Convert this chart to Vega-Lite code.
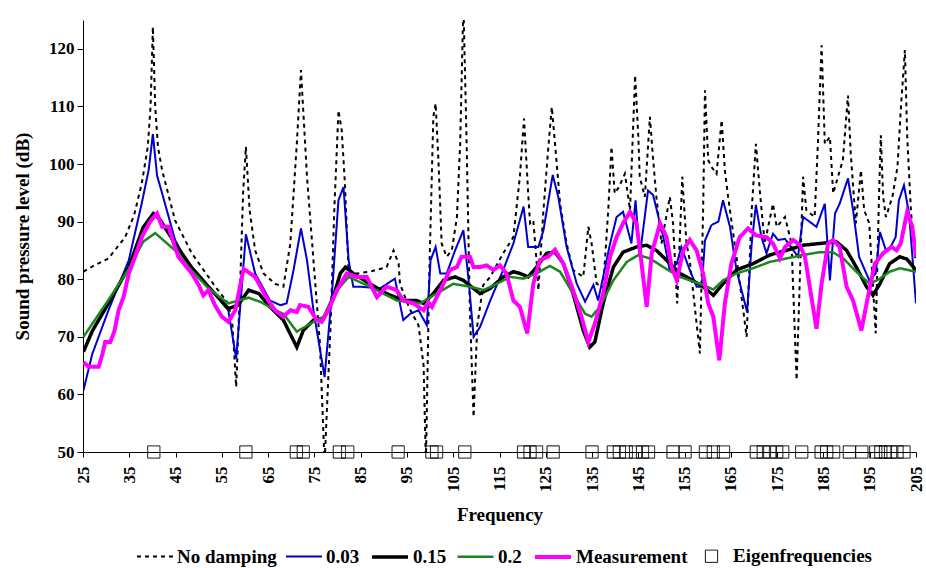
{
"$schema": "https://vega.github.io/schema/vega-lite/v6.json",
"width": 833, "height": 432,
"autosize": {"type": "none"},
"padding": {"left": 83, "top": 20, "right": 10, "bottom": 116},
"background": "white",
"config": {
 "view": {"stroke": null},
 "font": "Liberation Serif",
 "axis": {"labelFont": "Liberation Serif", "labelFontWeight": "bold", "labelFontSize": 17, "labelColor": "black", "titleFont": "Liberation Serif", "titleFontWeight": "bold", "titleFontSize": 19, "titleColor": "black", "domainColor": "black", "tickColor": "black", "grid": false, "labelOverlap": false, "labelFlush": false},
 "legend": {"labelFont": "Liberation Serif", "labelFontWeight": "bold", "labelFontSize": 19, "labelColor": "black", "padding": 0}
},
"data": {"values": [
{"s":"No damping","f":25.1,"v":81.3},{"s":"No damping","f":27,"v":82.2},{"s":"No damping","f":30.5,"v":83.6},{"s":"No damping","f":34.1,"v":87.3},{"s":"No damping","f":36,"v":91},{"s":"No damping","f":37.7,"v":96.6},{"s":"No damping","f":39.0,"v":103},{"s":"No damping","f":39.6,"v":110},{"s":"No damping","f":40.1,"v":123.8},{"s":"No damping","f":40.6,"v":110},{"s":"No damping","f":41.2,"v":103},{"s":"No damping","f":42.1,"v":98.9},{"s":"No damping","f":44.9,"v":90.2},{"s":"No damping","f":48.5,"v":84.5},{"s":"No damping","f":53.6,"v":78.7},{"s":"No damping","f":56.4,"v":75.8},{"s":"No damping","f":57.3,"v":72},{"s":"No damping","f":58.1,"v":61.3},{"s":"No damping","f":59.0,"v":80},{"s":"No damping","f":59.6,"v":95},{"s":"No damping","f":60.2,"v":103.0},{"s":"No damping","f":61.0,"v":92},{"s":"No damping","f":62.2,"v":85.0},{"s":"No damping","f":64,"v":81},{"s":"No damping","f":66.5,"v":79.2},{"s":"No damping","f":68.3,"v":78.7},{"s":"No damping","f":69.8,"v":86.2},{"s":"No damping","f":71.2,"v":103.5},{"s":"No damping","f":72.1,"v":116.3},{"s":"No damping","f":73.4,"v":97.8},{"s":"No damping","f":74.8,"v":83.3},{"s":"No damping","f":76.2,"v":68.8},{"s":"No damping","f":77.2,"v":48},{"s":"No damping","f":78.5,"v":72},{"s":"No damping","f":79.3,"v":92},{"s":"No damping","f":80.2,"v":109.3},{"s":"No damping","f":80.9,"v":105.9},{"s":"No damping","f":81.6,"v":96.6},{"s":"No damping","f":82.4,"v":81.0},{"s":"No damping","f":84.2,"v":81.0},{"s":"No damping","f":87.0,"v":81.3},{"s":"No damping","f":90.6,"v":82.1},{"s":"No damping","f":92.1,"v":85.0},{"s":"No damping","f":93.2,"v":82.7},{"s":"No damping","f":93.5,"v":79.2},{"s":"No damping","f":95.5,"v":75},{"s":"No damping","f":97.5,"v":72},{"s":"No damping","f":98.6,"v":65},{"s":"No damping","f":99.1,"v":48},{"s":"No damping","f":99.8,"v":80},{"s":"No damping","f":100.7,"v":108.2},{"s":"No damping","f":101.2,"v":110.5},{"s":"No damping","f":101.8,"v":100.7},{"s":"No damping","f":102.5,"v":86.2},{"s":"No damping","f":103.6,"v":83.9},{"s":"No damping","f":104.7,"v":85.0},{"s":"No damping","f":105.8,"v":90.8},{"s":"No damping","f":106.5,"v":103.5},{"s":"No damping","f":107.2,"v":128},{"s":"No damping","f":107.9,"v":103.5},{"s":"No damping","f":108.6,"v":74.6},{"s":"No damping","f":109.4,"v":56.1},{"s":"No damping","f":110.2,"v":72},{"s":"No damping","f":111.5,"v":79},{"s":"No damping","f":113.0,"v":80.4},{"s":"No damping","f":115.8,"v":84.5},{"s":"No damping","f":118.0,"v":87.3},{"s":"No damping","f":119.4,"v":97.8},{"s":"No damping","f":120.3,"v":107.9},{"s":"No damping","f":121.2,"v":94.9},{"s":"No damping","f":121.6,"v":89.7},{"s":"No damping","f":122.3,"v":90.2},{"s":"No damping","f":123.0,"v":83.3},{"s":"No damping","f":123.4,"v":78.1},{"s":"No damping","f":124.5,"v":92.0},{"s":"No damping","f":125.5,"v":102.4},{"s":"No damping","f":126.3,"v":109.9},{"s":"No damping","f":127.0,"v":103.5},{"s":"No damping","f":128.1,"v":93.1},{"s":"No damping","f":129.5,"v":86.2},{"s":"No damping","f":130.9,"v":81.6},{"s":"No damping","f":133.1,"v":80.4},{"s":"No damping","f":134.2,"v":89.1},{"s":"No damping","f":134.9,"v":86.2},{"s":"No damping","f":136.0,"v":79.2},{"s":"No damping","f":137.4,"v":78.6},{"s":"No damping","f":138.5,"v":92.0},{"s":"No damping","f":139.2,"v":103.0},{"s":"No damping","f":139.9,"v":94.9},{"s":"No damping","f":140.8,"v":96},{"s":"No damping","f":142.1,"v":98.3},{"s":"No damping","f":143.2,"v":92.0},{"s":"No damping","f":144.3,"v":115.4},{"s":"No damping","f":145.0,"v":104.7},{"s":"No damping","f":145.3,"v":97.8},{"s":"No damping","f":146.4,"v":94.3},{"s":"No damping","f":147.5,"v":108.2},{"s":"No damping","f":148.2,"v":100.7},{"s":"No damping","f":148.9,"v":94.3},{"s":"No damping","f":150.0,"v":86.2},{"s":"No damping","f":151.8,"v":94.3},{"s":"No damping","f":152.5,"v":89.7},{"s":"No damping","f":153.4,"v":75.8},{"s":"No damping","f":154.5,"v":97.8},{"s":"No damping","f":155.4,"v":86.2},{"s":"No damping","f":156.1,"v":83.3},{"s":"No damping","f":158.3,"v":67.1},{"s":"No damping","f":159.0,"v":92.0},{"s":"No damping","f":159.4,"v":112.8},{"s":"No damping","f":160.1,"v":100.7},{"s":"No damping","f":160.8,"v":99.5},{"s":"No damping","f":161.9,"v":98.3},{"s":"No damping","f":163.0,"v":107.6},{"s":"No damping","f":163.7,"v":98.9},{"s":"No damping","f":164.4,"v":94.3},{"s":"No damping","f":166.2,"v":83.9},{"s":"No damping","f":168.4,"v":70.0},{"s":"No damping","f":169.5,"v":92.0},{"s":"No damping","f":170.4,"v":103.5},{"s":"No damping","f":171.3,"v":94.9},{"s":"No damping","f":172.3,"v":86.2},{"s":"No damping","f":174.1,"v":93.1},{"s":"No damping","f":174.9,"v":89.1},{"s":"No damping","f":176.7,"v":90.8},{"s":"No damping","f":178.1,"v":86.2},{"s":"No damping","f":179.2,"v":62.5},{"s":"No damping","f":180.6,"v":97.8},{"s":"No damping","f":181.3,"v":92.0},{"s":"No damping","f":183.1,"v":90.8},{"s":"No damping","f":183.8,"v":103.5},{"s":"No damping","f":184.6,"v":120.6},{"s":"No damping","f":185.3,"v":103.5},{"s":"No damping","f":186.4,"v":104.7},{"s":"No damping","f":187.1,"v":94.9},{"s":"No damping","f":189.2,"v":100.7},{"s":"No damping","f":190.3,"v":111.9},{"s":"No damping","f":190.9,"v":101.8},{"s":"No damping","f":192.0,"v":89.7},{"s":"No damping","f":193.1,"v":98.9},{"s":"No damping","f":193.8,"v":92.0},{"s":"No damping","f":194.9,"v":89.7},{"s":"No damping","f":196.3,"v":70.6},{"s":"No damping","f":197.0,"v":94.3},{"s":"No damping","f":197.4,"v":105.0},{"s":"No damping","f":197.9,"v":94.3},{"s":"No damping","f":198.5,"v":90.8},{"s":"No damping","f":199.9,"v":94.3},{"s":"No damping","f":201.0,"v":99.5},{"s":"No damping","f":201.7,"v":109.3},{"s":"No damping","f":202.6,"v":119.8},{"s":"No damping","f":203.1,"v":104.7},{"s":"No damping","f":203.9,"v":92.0},{"s":"No damping","f":204.6,"v":85.0},{"s":"No damping","f":205,"v":83},
{"s":"0.03","f":25.1,"v":60.7},{"s":"0.03","f":27,"v":67},{"s":"0.03","f":30.5,"v":74.6},{"s":"0.03","f":34.9,"v":83.3},{"s":"0.03","f":37.7,"v":93.2},{"s":"0.03","f":39.2,"v":99},{"s":"0.03","f":40.1,"v":105.2},{"s":"0.03","f":41.0,"v":98},{"s":"0.03","f":42.1,"v":94.9},{"s":"0.03","f":44.9,"v":86.8},{"s":"0.03","f":48.5,"v":81.5},{"s":"0.03","f":52.1,"v":78.7},{"s":"0.03","f":56.4,"v":74.6},{"s":"0.03","f":58.1,"v":66.2},{"s":"0.03","f":60.2,"v":87.8},{"s":"0.03","f":62.2,"v":81.0},{"s":"0.03","f":65.4,"v":76.3},{"s":"0.03","f":67.6,"v":75.5},{"s":"0.03","f":69.0,"v":75.8},{"s":"0.03","f":70.5,"v":81.6},{"s":"0.03","f":72.1,"v":88.8},{"s":"0.03","f":73.4,"v":83.3},{"s":"0.03","f":74.8,"v":74.6},{"s":"0.03","f":77.2,"v":63.0},{"s":"0.03","f":78.8,"v":77.5},{"s":"0.03","f":80.2,"v":93.7},{"s":"0.03","f":81.3,"v":96.0},{"s":"0.03","f":82.4,"v":83.3},{"s":"0.03","f":83.4,"v":78.7},{"s":"0.03","f":84.9,"v":78.7},{"s":"0.03","f":89.2,"v":78.4},{"s":"0.03","f":92.4,"v":80.1},{"s":"0.03","f":94.2,"v":72.9},{"s":"0.03","f":95.7,"v":74.0},{"s":"0.03","f":97.5,"v":74.6},{"s":"0.03","f":99.3,"v":72.0},{"s":"0.03","f":100.1,"v":83.3},{"s":"0.03","f":101.2,"v":85.6},{"s":"0.03","f":102.2,"v":81.0},{"s":"0.03","f":103.6,"v":81.0},{"s":"0.03","f":105.4,"v":85.0},{"s":"0.03","f":107.2,"v":88.5},{"s":"0.03","f":108.4,"v":79.2},{"s":"0.03","f":109.4,"v":70.0},{"s":"0.03","f":110.8,"v":71.7},{"s":"0.03","f":113.0,"v":76.3},{"s":"0.03","f":115.8,"v":81.6},{"s":"0.03","f":118.0,"v":86.2},{"s":"0.03","f":120.2,"v":92.6},{"s":"0.03","f":121.2,"v":85.6},{"s":"0.03","f":123.4,"v":85.6},{"s":"0.03","f":124.5,"v":88.5},{"s":"0.03","f":126.5,"v":98.1},{"s":"0.03","f":127.7,"v":94.3},{"s":"0.03","f":129.5,"v":85.6},{"s":"0.03","f":131.7,"v":79.2},{"s":"0.03","f":133.5,"v":76.1},{"s":"0.03","f":135.3,"v":79.0},{"s":"0.03","f":136.3,"v":76.3},{"s":"0.03","f":137.4,"v":80.4},{"s":"0.03","f":138.9,"v":86.2},{"s":"0.03","f":140.3,"v":90.8},{"s":"0.03","f":141.7,"v":91.7},{"s":"0.03","f":143.5,"v":86.2},{"s":"0.03","f":144.4,"v":93.7},{"s":"0.03","f":145.3,"v":83.9},{"s":"0.03","f":147.1,"v":95.4},{"s":"0.03","f":148.2,"v":94.6},{"s":"0.03","f":150.4,"v":87.3},{"s":"0.03","f":151.8,"v":81.5},{"s":"0.03","f":153.3,"v":82.7},{"s":"0.03","f":154.3,"v":85.6},{"s":"0.03","f":156.1,"v":81.6},{"s":"0.03","f":157.6,"v":78.7},{"s":"0.03","f":158.7,"v":78.7},{"s":"0.03","f":159.4,"v":86.7},{"s":"0.03","f":160.8,"v":89.4},{"s":"0.03","f":162.3,"v":90.0},{"s":"0.03","f":163.3,"v":93.7},{"s":"0.03","f":164.8,"v":89.1},{"s":"0.03","f":166.2,"v":81.6},{"s":"0.03","f":168.5,"v":74.3},{"s":"0.03","f":169.5,"v":86.2},{"s":"0.03","f":170.4,"v":92.9},{"s":"0.03","f":171.6,"v":87.3},{"s":"0.03","f":172.7,"v":84.5},{"s":"0.03","f":174.1,"v":87.9},{"s":"0.03","f":175.2,"v":86.8},{"s":"0.03","f":176.7,"v":87.0},{"s":"0.03","f":178.5,"v":85.0},{"s":"0.03","f":179.5,"v":83.9},{"s":"0.03","f":180.6,"v":90.8},{"s":"0.03","f":183.5,"v":89.1},{"s":"0.03","f":185.3,"v":93.1},{"s":"0.03","f":186.4,"v":79.8},{"s":"0.03","f":187.5,"v":91.4},{"s":"0.03","f":188.5,"v":93.1},{"s":"0.03","f":190.3,"v":97.5},{"s":"0.03","f":191.4,"v":92.0},{"s":"0.03","f":192.7,"v":83.9},{"s":"0.03","f":194.9,"v":79.8},{"s":"0.03","f":196.3,"v":81.0},{"s":"0.03","f":197.2,"v":88.2},{"s":"0.03","f":198.5,"v":85.0},{"s":"0.03","f":199.5,"v":85.6},{"s":"0.03","f":200.6,"v":87.3},{"s":"0.03","f":201.3,"v":93.7},{"s":"0.03","f":202.4,"v":96.3},{"s":"0.03","f":203.5,"v":91.4},{"s":"0.03","f":205,"v":75.8},
{"s":"0.15","f":25.1,"v":67.4},{"s":"0.15","f":27,"v":71},{"s":"0.15","f":30.5,"v":75.8},{"s":"0.15","f":34.9,"v":82.1},{"s":"0.15","f":38,"v":89},{"s":"0.15","f":40.2,"v":91.4},{"s":"0.15","f":41.5,"v":90.5},{"s":"0.15","f":44.9,"v":86.2},{"s":"0.15","f":48.5,"v":82},{"s":"0.15","f":52.1,"v":78.7},{"s":"0.15","f":56.4,"v":74.9},{"s":"0.15","f":58.5,"v":75.5},{"s":"0.15","f":60.8,"v":78.1},{"s":"0.15","f":63,"v":77.5},{"s":"0.15","f":65.4,"v":75.2},{"s":"0.15","f":68.3,"v":72.9},{"s":"0.15","f":71.2,"v":68.2},{"s":"0.15","f":72.6,"v":71.1},{"s":"0.15","f":74.8,"v":72.9},{"s":"0.15","f":77.0,"v":73.2},{"s":"0.15","f":79.1,"v":76.9},{"s":"0.15","f":80.6,"v":81.0},{"s":"0.15","f":81.7,"v":82.1},{"s":"0.15","f":83.4,"v":81.0},{"s":"0.15","f":87.0,"v":79.2},{"s":"0.15","f":90.6,"v":77.5},{"s":"0.15","f":94.2,"v":76.3},{"s":"0.15","f":97.1,"v":76.3},{"s":"0.15","f":98.6,"v":75.8},{"s":"0.15","f":100.7,"v":77.5},{"s":"0.15","f":102.9,"v":79.8},{"s":"0.15","f":105.4,"v":80.4},{"s":"0.15","f":107.2,"v":79.8},{"s":"0.15","f":110.8,"v":77.5},{"s":"0.15","f":113.0,"v":78.4},{"s":"0.15","f":115.8,"v":80.4},{"s":"0.15","f":118.0,"v":81.3},{"s":"0.15","f":119.4,"v":81.0},{"s":"0.15","f":121.2,"v":80.4},{"s":"0.15","f":123.0,"v":82.1},{"s":"0.15","f":125.2,"v":84.5},{"s":"0.15","f":127.0,"v":84.7},{"s":"0.15","f":128.8,"v":82.7},{"s":"0.15","f":130.9,"v":77.5},{"s":"0.15","f":133.1,"v":71.1},{"s":"0.15","f":134.5,"v":68.2},{"s":"0.15","f":135.6,"v":69.1},{"s":"0.15","f":137.4,"v":75.8},{"s":"0.15","f":139.6,"v":82.1},{"s":"0.15","f":141.7,"v":84.7},{"s":"0.15","f":144.6,"v":85.6},{"s":"0.15","f":146.8,"v":85.9},{"s":"0.15","f":148.9,"v":85.0},{"s":"0.15","f":151.1,"v":83.3},{"s":"0.15","f":154.0,"v":81.0},{"s":"0.15","f":155.4,"v":80.4},{"s":"0.15","f":159.0,"v":78.7},{"s":"0.15","f":161.2,"v":77.2},{"s":"0.15","f":163.3,"v":79.2},{"s":"0.15","f":166.2,"v":81.6},{"s":"0.15","f":169.8,"v":82.7},{"s":"0.15","f":173.4,"v":84.2},{"s":"0.15","f":177.0,"v":85.0},{"s":"0.15","f":180.6,"v":85.9},{"s":"0.15","f":184.2,"v":86.2},{"s":"0.15","f":187.8,"v":86.5},{"s":"0.15","f":190.0,"v":85.0},{"s":"0.15","f":192.1,"v":82.1},{"s":"0.15","f":194.3,"v":78.7},{"s":"0.15","f":195.7,"v":77.2},{"s":"0.15","f":197.2,"v":79.2},{"s":"0.15","f":199.3,"v":82.7},{"s":"0.15","f":201.5,"v":83.9},{"s":"0.15","f":203,"v":83.5},{"s":"0.15","f":205,"v":81.6},
{"s":"0.2","f":25.1,"v":70.0},{"s":"0.2","f":30.5,"v":76.4},{"s":"0.2","f":34.9,"v":81.8},{"s":"0.2","f":38,"v":86.5},{"s":"0.2","f":40.6,"v":88.0},{"s":"0.2","f":44.9,"v":85.0},{"s":"0.2","f":48.5,"v":81.5},{"s":"0.2","f":52.1,"v":78.4},{"s":"0.2","f":56.4,"v":75.8},{"s":"0.2","f":60.8,"v":76.8},{"s":"0.2","f":63.5,"v":76},{"s":"0.2","f":66.5,"v":74.6},{"s":"0.2","f":68.3,"v":74.0},{"s":"0.2","f":71.2,"v":70.9},{"s":"0.2","f":74.8,"v":72.6},{"s":"0.2","f":77.0,"v":73.5},{"s":"0.2","f":79.9,"v":78.1},{"s":"0.2","f":82.4,"v":80.4},{"s":"0.2","f":87.0,"v":78.7},{"s":"0.2","f":92.8,"v":76.3},{"s":"0.2","f":97.8,"v":75.8},{"s":"0.2","f":101.4,"v":77.5},{"s":"0.2","f":105.0,"v":79.2},{"s":"0.2","f":108.6,"v":78.7},{"s":"0.2","f":111.5,"v":78.1},{"s":"0.2","f":114.4,"v":79.2},{"s":"0.2","f":117.3,"v":80.4},{"s":"0.2","f":120.2,"v":80.1},{"s":"0.2","f":123.0,"v":81.0},{"s":"0.2","f":125.9,"v":82.3},{"s":"0.2","f":128.1,"v":81.3},{"s":"0.2","f":130.9,"v":77.5},{"s":"0.2","f":133.5,"v":74.0},{"s":"0.2","f":134.9,"v":73.5},{"s":"0.2","f":136.7,"v":75.2},{"s":"0.2","f":139.6,"v":79.8},{"s":"0.2","f":142.5,"v":83.0},{"s":"0.2","f":145.0,"v":84.2},{"s":"0.2","f":147.5,"v":83.6},{"s":"0.2","f":150.4,"v":82.1},{"s":"0.2","f":154.0,"v":80.4},{"s":"0.2","f":159.0,"v":79.0},{"s":"0.2","f":161.2,"v":78.2},{"s":"0.2","f":163.3,"v":79.8},{"s":"0.2","f":166.2,"v":81.0},{"s":"0.2","f":169.8,"v":81.9},{"s":"0.2","f":173.4,"v":83.0},{"s":"0.2","f":177.0,"v":83.6},{"s":"0.2","f":180.6,"v":84.2},{"s":"0.2","f":184.2,"v":84.7},{"s":"0.2","f":187.0,"v":84.7},{"s":"0.2","f":189.3,"v":83.6},{"s":"0.2","f":192.1,"v":81.3},{"s":"0.2","f":195.0,"v":79.2},{"s":"0.2","f":197.2,"v":80.1},{"s":"0.2","f":199.3,"v":81.3},{"s":"0.2","f":201.5,"v":81.9},{"s":"0.2","f":205,"v":81.3},
{"s":"Measurement","f":25.1,"v":65.6},{"s":"Measurement","f":26.2,"v":64.8},{"s":"Measurement","f":28.4,"v":64.8},{"s":"Measurement","f":29.2,"v":67},{"s":"Measurement","f":29.8,"v":69.1},{"s":"Measurement","f":30.9,"v":69.1},{"s":"Measurement","f":31.8,"v":71},{"s":"Measurement","f":32.7,"v":74.6},{"s":"Measurement","f":33.8,"v":77},{"s":"Measurement","f":34.9,"v":81.0},{"s":"Measurement","f":36.3,"v":84},{"s":"Measurement","f":37.7,"v":87.3},{"s":"Measurement","f":39.5,"v":90},{"s":"Measurement","f":41.0,"v":91.4},{"s":"Measurement","f":42.1,"v":89.1},{"s":"Measurement","f":43.5,"v":89.1},{"s":"Measurement","f":44.5,"v":86.5},{"s":"Measurement","f":45.6,"v":83.9},{"s":"Measurement","f":47,"v":82.5},{"s":"Measurement","f":48.5,"v":81.0},{"s":"Measurement","f":50,"v":79},{"s":"Measurement","f":51.0,"v":77.2},{"s":"Measurement","f":52.1,"v":78.1},{"s":"Measurement","f":53.5,"v":75.5},{"s":"Measurement","f":55.0,"v":73.5},{"s":"Measurement","f":56.4,"v":72.6},{"s":"Measurement","f":57.9,"v":74.6},{"s":"Measurement","f":59.7,"v":81.8},{"s":"Measurement","f":62.2,"v":80.4},{"s":"Measurement","f":64.5,"v":77},{"s":"Measurement","f":66.5,"v":74.6},{"s":"Measurement","f":68.3,"v":73.5},{"s":"Measurement","f":69.8,"v":74.6},{"s":"Measurement","f":71.2,"v":74.3},{"s":"Measurement","f":71.9,"v":75.5},{"s":"Measurement","f":73.7,"v":75.2},{"s":"Measurement","f":75.5,"v":72.9},{"s":"Measurement","f":76.6,"v":72.6},{"s":"Measurement","f":78.0,"v":74.6},{"s":"Measurement","f":79.9,"v":78.1},{"s":"Measurement","f":82.0,"v":81.0},{"s":"Measurement","f":84.2,"v":80.4},{"s":"Measurement","f":86.3,"v":80.4},{"s":"Measurement","f":88.5,"v":76.9},{"s":"Measurement","f":90.6,"v":78.7},{"s":"Measurement","f":92.8,"v":78.1},{"s":"Measurement","f":94.2,"v":76.3},{"s":"Measurement","f":96.4,"v":75.8},{"s":"Measurement","f":98.6,"v":74.6},{"s":"Measurement","f":99.6,"v":76.0},{"s":"Measurement","f":100.4,"v":75.2},{"s":"Measurement","f":102.2,"v":78.1},{"s":"Measurement","f":104.3,"v":81.6},{"s":"Measurement","f":105.8,"v":82.1},{"s":"Measurement","f":106.8,"v":83.9},{"s":"Measurement","f":108.6,"v":83.9},{"s":"Measurement","f":109.4,"v":82.1},{"s":"Measurement","f":110.8,"v":82.1},{"s":"Measurement","f":112.2,"v":82.4},{"s":"Measurement","f":113.7,"v":81.6},{"s":"Measurement","f":115.1,"v":82.4},{"s":"Measurement","f":116.5,"v":81.0},{"s":"Measurement","f":118.0,"v":76.3},{"s":"Measurement","f":119.4,"v":75.2},{"s":"Measurement","f":121.0,"v":70.6},{"s":"Measurement","f":122.3,"v":79.2},{"s":"Measurement","f":123.7,"v":83.3},{"s":"Measurement","f":125.5,"v":83.9},{"s":"Measurement","f":127.0,"v":85.1},{"s":"Measurement","f":128.8,"v":82.7},{"s":"Measurement","f":130.9,"v":78.1},{"s":"Measurement","f":132.7,"v":73.5},{"s":"Measurement","f":134.2,"v":69.1},{"s":"Measurement","f":135.6,"v":72.3},{"s":"Measurement","f":137.4,"v":77.5},{"s":"Measurement","f":138.9,"v":83.9},{"s":"Measurement","f":140.3,"v":87.3},{"s":"Measurement","f":141.7,"v":89.7},{"s":"Measurement","f":143.2,"v":91.7},{"s":"Measurement","f":144.6,"v":89.7},{"s":"Measurement","f":145.7,"v":82.7},{"s":"Measurement","f":146.8,"v":75.2},{"s":"Measurement","f":147.9,"v":84.5},{"s":"Measurement","f":149.7,"v":89.7},{"s":"Measurement","f":151.1,"v":87.3},{"s":"Measurement","f":152.2,"v":82.1},{"s":"Measurement","f":153.3,"v":79.8},{"s":"Measurement","f":154.7,"v":85.0},{"s":"Measurement","f":156.1,"v":86.8},{"s":"Measurement","f":157.6,"v":85.0},{"s":"Measurement","f":159.0,"v":81.0},{"s":"Measurement","f":160.1,"v":75.8},{"s":"Measurement","f":161.2,"v":73.5},{"s":"Measurement","f":162.5,"v":65.9},{"s":"Measurement","f":163.7,"v":75.8},{"s":"Measurement","f":165.1,"v":82.7},{"s":"Measurement","f":166.9,"v":87.3},{"s":"Measurement","f":168.7,"v":88.8},{"s":"Measurement","f":170.5,"v":87.6},{"s":"Measurement","f":172.7,"v":87.3},{"s":"Measurement","f":174.1,"v":86.2},{"s":"Measurement","f":175.6,"v":83.6},{"s":"Measurement","f":176.7,"v":85.6},{"s":"Measurement","f":178.5,"v":86.8},{"s":"Measurement","f":179.9,"v":85.9},{"s":"Measurement","f":181.0,"v":83.9},{"s":"Measurement","f":182.4,"v":76.9},{"s":"Measurement","f":183.5,"v":71.4},{"s":"Measurement","f":184.6,"v":79.2},{"s":"Measurement","f":186.0,"v":86.2},{"s":"Measurement","f":187.1,"v":86.8},{"s":"Measurement","f":188.5,"v":85.6},{"s":"Measurement","f":190.0,"v":78.7},{"s":"Measurement","f":191.4,"v":76.3},{"s":"Measurement","f":193.2,"v":71.1},{"s":"Measurement","f":194.6,"v":76.9},{"s":"Measurement","f":196.1,"v":82.7},{"s":"Measurement","f":197.9,"v":84.5},{"s":"Measurement","f":199.7,"v":85.6},{"s":"Measurement","f":200.8,"v":85.0},{"s":"Measurement","f":201.7,"v":86.2},{"s":"Measurement","f":203.1,"v":91.7},{"s":"Measurement","f":204.2,"v":89.1},{"s":"Measurement","f":205,"v":83.9},
{"s":"Eigenfrequencies","f":40.3,"v":50},{"s":"Eigenfrequencies","f":60.2,"v":50},{"s":"Eigenfrequencies","f":71.1,"v":50},{"s":"Eigenfrequencies","f":72.6,"v":50},{"s":"Eigenfrequencies","f":80.4,"v":50},{"s":"Eigenfrequencies","f":82.2,"v":50},{"s":"Eigenfrequencies","f":93.1,"v":50},{"s":"Eigenfrequencies","f":100.4,"v":50},{"s":"Eigenfrequencies","f":101.4,"v":50},{"s":"Eigenfrequencies","f":107.5,"v":50},{"s":"Eigenfrequencies","f":120.2,"v":50},{"s":"Eigenfrequencies","f":121.6,"v":50},{"s":"Eigenfrequencies","f":123.0,"v":50},{"s":"Eigenfrequencies","f":126.6,"v":50},{"s":"Eigenfrequencies","f":135.0,"v":50},{"s":"Eigenfrequencies","f":139.6,"v":50},{"s":"Eigenfrequencies","f":140.9,"v":50},{"s":"Eigenfrequencies","f":142.4,"v":50},{"s":"Eigenfrequencies","f":144.4,"v":50},{"s":"Eigenfrequencies","f":145.9,"v":50},{"s":"Eigenfrequencies","f":147.2,"v":50},{"s":"Eigenfrequencies","f":152.5,"v":50},{"s":"Eigenfrequencies","f":155.1,"v":50},{"s":"Eigenfrequencies","f":159.5,"v":50},{"s":"Eigenfrequencies","f":161.2,"v":50},{"s":"Eigenfrequencies","f":163.4,"v":50},{"s":"Eigenfrequencies","f":170.5,"v":50},{"s":"Eigenfrequencies","f":172.0,"v":50},{"s":"Eigenfrequencies","f":173.4,"v":50},{"s":"Eigenfrequencies","f":174.9,"v":50},{"s":"Eigenfrequencies","f":176.2,"v":50},{"s":"Eigenfrequencies","f":180.3,"v":50},{"s":"Eigenfrequencies","f":184.5,"v":50},{"s":"Eigenfrequencies","f":185.7,"v":50},{"s":"Eigenfrequencies","f":187.2,"v":50},{"s":"Eigenfrequencies","f":190.6,"v":50},{"s":"Eigenfrequencies","f":193.3,"v":50},{"s":"Eigenfrequencies","f":196.3,"v":50},{"s":"Eigenfrequencies","f":197.4,"v":50},{"s":"Eigenfrequencies","f":198.4,"v":50},{"s":"Eigenfrequencies","f":199.5,"v":50},{"s":"Eigenfrequencies","f":200.9,"v":50},{"s":"Eigenfrequencies","f":202.4,"v":50}
]},
"encoding": {
 "x": {"field": "f", "type": "quantitative", "scale": {"domain": [25, 205], "nice": false, "zero": false},
  "axis": {"values": [25,35,45,55,65,75,85,95,105,115,125,135,145,155,165,175,185,195,205], "labelAngle": 270, "title": "Frequency", "tickSize": 5, "labelPadding": 9, "titlePadding": 14}},
 "y": {"field": "v", "type": "quantitative", "scale": {"domain": [50, 125], "nice": false, "zero": false},
  "axis": {"values": [50,60,70,80,90,100,110,120], "title": "Sound pressure level (dB)", "tickSize": 6, "labelPadding": 3, "titlePadding": 16}},
 "color": {"field": "s", "type": "nominal", "sort": null,
  "scale": {"domain": ["No damping","0.03","0.15","0.2","Measurement","Eigenfrequencies"], "range": ["#000000","#0000CD","#000000","#1B861B","#FF00FF","#000000"]},
  "legend": {"orient": "none", "legendX": 53, "legendY": 517, "direction": "horizontal", "title": null, "labelOffset": 3, "columnPadding": 5, "symbolFillColor": "transparent"}},
 "strokeDash": {"field": "s", "type": "nominal", "sort": null,
  "scale": {"domain": ["No damping","0.03","0.15","0.2","Measurement","Eigenfrequencies"], "range": [[4,4],[1,0],[1,0],[1,0],[1,0],[1,0]]}},
 "strokeWidth": {"field": "s", "type": "nominal", "sort": null,
  "scale": {"type": "ordinal", "domain": ["No damping","0.03","0.15","0.2","Measurement","Eigenfrequencies"], "range": [2,2,3.5,2.5,4,1]}}
},
"layer": [
 {"transform": [{"filter": "datum.s != 'Eigenfrequencies'"}],
  "mark": {"type": "line", "clip": true}},
 {"transform": [{"filter": "datum.s == 'Eigenfrequencies'"}],
  "mark": {"type": "point", "filled": false, "opacity": 1},
  "encoding": {
   "shape": {"field": "s", "type": "nominal", "sort": null,
    "scale": {"domain": ["No damping","0.03","0.15","0.2","Measurement","Eigenfrequencies"], "range": ["M-1,0L1,0","M-1,0L1,0","M-1,0L1,0","M-1,0L1,0","M-1,0L1,0","M-0.34,-0.34L0.34,-0.34L0.34,0.34L-0.34,0.34Z"]}},
   "size": {"field": "s", "type": "nominal", "sort": null,
    "scale": {"type": "ordinal", "domain": ["No damping","0.03","0.15","0.2","Measurement","Eigenfrequencies"], "range": [1296,1296,1296,1296,1296,1296]}}
  }}
]
}
